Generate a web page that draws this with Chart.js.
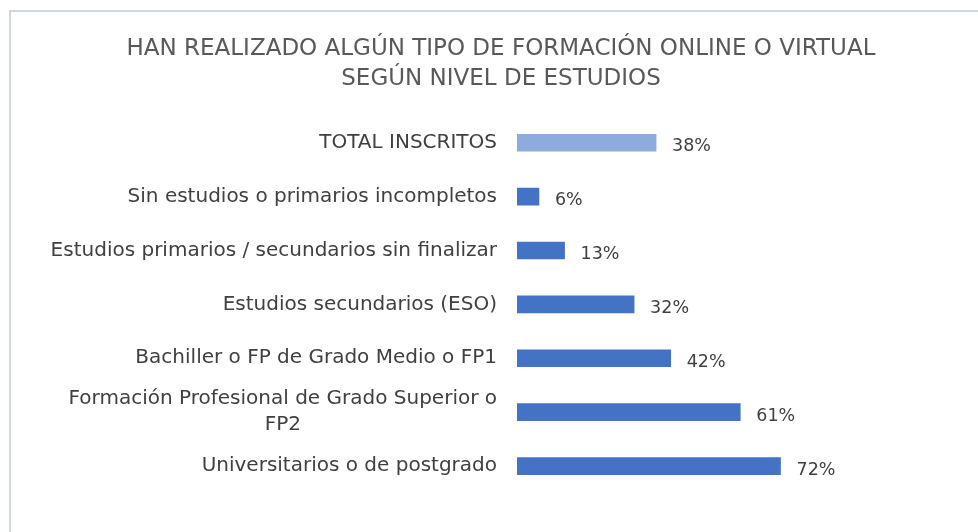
<!DOCTYPE html>
<html>
<head>
<meta charset="utf-8">
<script src="https://cdn.jsdelivr.net/npm/chart.js@4/dist/chart.umd.min.js"></script>
<style>
  html, body { margin: 0; padding: 0; background: #ffffff; }
  #wrap { position: relative; width: 978px; height: 532px; overflow: hidden; }
  #frame { position: absolute; left: 9px; top: 10px; width: 1000px; height: 560px;
           border: 2px solid #d0d7e3; box-sizing: border-box; }
  #c { position: absolute; left: 0; top: 0; }
</style>
</head>
<body>
<div id="wrap">
  <div id="frame"></div>
  <canvas id="c" width="978" height="532"></canvas>
</div>
<script>
// Categories (multi-line labels as arrays)
const categories = [
  'TOTAL INSCRITOS',
  'Sin estudios o primarios incompletos',
  'Estudios primarios / secundarios sin finalizar',
  'Estudios secundarios (ESO)',
  'Bachiller o FP de Grado Medio o FP1',
  ['Formación Profesional de Grado Superior o', 'FP2'],
  'Universitarios o de postgrado'
];
// Share that has taken some online/virtual training (%)
const percentages = [38, 6, 13, 32, 42, 61, 72];
const titleLines = [
  'HAN REALIZADO ALGÚN TIPO DE FORMACIÓN ONLINE O VIRTUAL',
  'SEGÚN NIVEL DE ESTUDIOS'
];

const FONT = '"DejaVu Sans", sans-serif';
const TEXT = '#404040';

// Category labels: block right-aligned to the axis, lines centred within the block
const categoryLabels = {
  id: 'categoryLabels',
  afterDraw(chart) {
    const { ctx } = chart;
    const y = chart.scales.y;
    const right = chart.chartArea.left - 20;
    const lh = 26;
    ctx.save();
    ctx.font = '20px ' + FONT;
    ctx.fillStyle = TEXT;
    ctx.textBaseline = 'middle';
    chart.data.labels.forEach((lab, i) => {
      const lines = Array.isArray(lab) ? lab : [lab];
      const widths = lines.map(l => ctx.measureText(l).width);
      const block = Math.max(...widths);
      const cy = y.getPixelForValue(i);
      const top = cy - (lines.length - 1) * lh / 2;
      lines.forEach((l, k) => {
        ctx.textAlign = 'center';
        ctx.fillText(l, right - block / 2, top + k * lh);
      });
    });
    ctx.restore();
  }
};

// Value labels just past the end of each bar
const valueLabels = {
  id: 'valueLabels',
  afterDatasetsDraw(chart) {
    const { ctx } = chart;
    const meta = chart.getDatasetMeta(0);
    ctx.save();
    ctx.font = '17.5px ' + FONT;
    ctx.fillStyle = TEXT;
    ctx.textAlign = 'left';
    ctx.textBaseline = 'middle';
    meta.data.forEach((bar, i) => {
      ctx.fillText(percentages[i] + '%', bar.x + 16, bar.y + 4);
    });
    ctx.restore();
  }
};

new Chart(document.getElementById('c'), {
  type: 'bar',
  data: {
    labels: categories,
    datasets: [{
      data: percentages,
      backgroundColor: percentages.map((v, i) => i === 0 ? '#8faadc' : '#4472c4'),
      barThickness: 17,
      borderWidth: 0
    }]
  },
  options: {
    indexAxis: 'y',
    responsive: false,
    animation: false,
    layout: { padding: { left: 119, right: 95, top: 0, bottom: 39 } },
    plugins: {
      legend: { display: false },
      tooltip: { enabled: false },
      title: {
        display: true,
        text: titleLines,
        color: '#595959',
        font: { family: FONT, size: 23, weight: 'normal', lineHeight: 1.3 },
        padding: { top: 34, bottom: 22 }
      }
    },
    scales: {
      x: { display: false, min: 0, max: 100 },
      y: {
        grid: { display: false, drawTicks: false },
        border: { display: false },
        ticks: { display: false },
        afterFit(scale) { scale.width = 398; }
      }
    }
  },
  plugins: [categoryLabels, valueLabels]
});
</script>
</body>
</html>
